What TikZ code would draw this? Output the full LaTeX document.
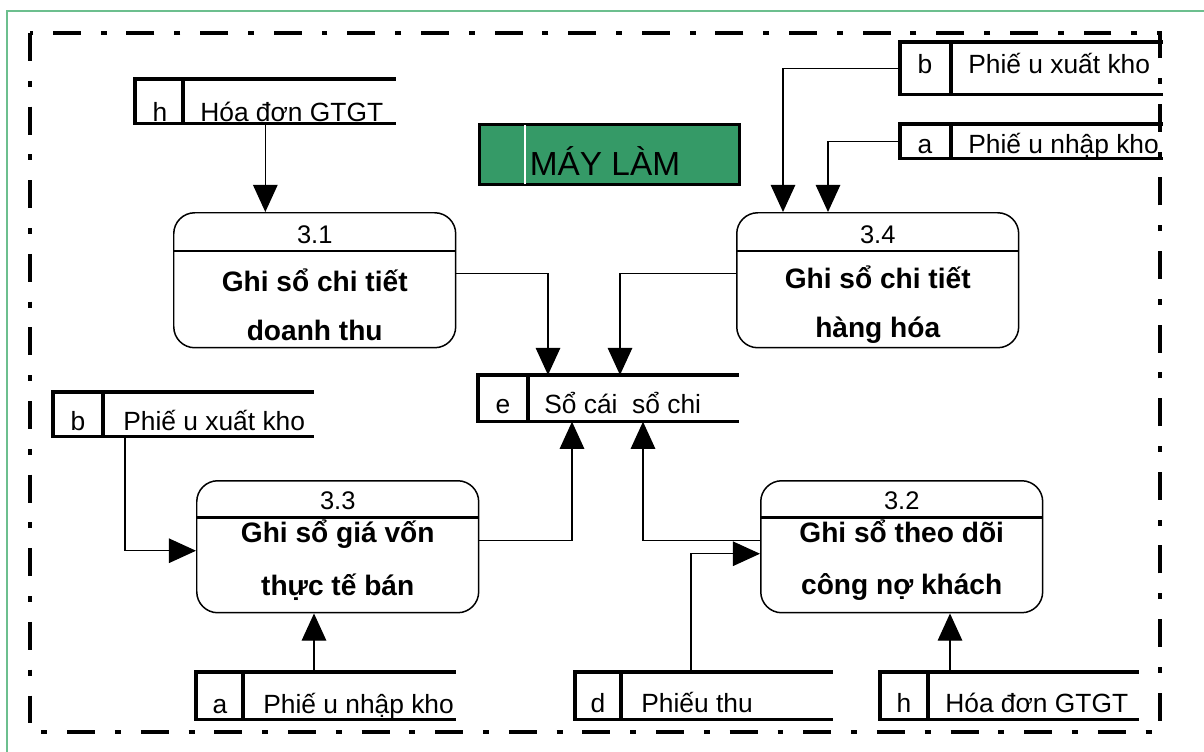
\documentclass[tikz,border=0pt]{standalone}
\usepackage{fontspec}
\setmainfont{Liberation Sans}
\usetikzlibrary{positioning, calc, arrows.meta}
\definecolor{Ink}{HTML}{000000}
\definecolor{Machine}{HTML}{359A67}
\definecolor{Frame}{HTML}{6CBF8E}
\tikzset{
    procbox/.style={rectangle, rounded corners=0.42cm, draw=Ink, line width=0.85pt, anchor=north west, minimum width=5.64cm},
    procline/.style={line width=1.7pt, Ink},
    procnum/.style={anchor=base, inner sep=0pt, font=\fontsize{14.5}{17}\selectfont},
    proctext/.style={align=center, inner sep=0pt, font=\fontsize{16}{28}\selectfont\bfseries},
    storebox/.style={rectangle, inner sep=0pt, anchor=north west},
    storeline/.style={line width=2pt, Ink},
    storetext/.style={anchor=base, inner sep=0pt, font=\fontsize{15}{18}\selectfont},
    flow/.style={-{Triangle[width=14pt, length=15.5pt]}, line width=0.75pt, Ink},
    bound/.style={line width=2.2pt, Ink, dash pattern=on 15.9pt off 11.3pt on 3.4pt off 11.3pt},
}
\begin{document}
\begin{tikzpicture}[x=0.02cm, y=-0.02cm]
\useasboundingbox (0,0) rectangle (1204,751);
% outer frame, runs off at right and bottom
\draw[Frame, line width=1.1pt] (7,11) rectangle (1215,765);
% system boundary
\draw[bound] (30,33) rectangle (1160,732);

% machine label
\node[storebox, fill=Machine, draw=Ink, line width=1.7pt, minimum width=5.2cm, minimum height=1.2cm] (may) at (478,123) {};
\draw[white, line width=0.6pt] ($(may.north west)+(47,2)$) -- ($(may.south west)+(47,-2)$);
\node[storetext, font=\fontsize{19}{22}\selectfont] (may-t) at (605,175) {MÁY LÀM};

% processes
\node[procbox, minimum height=2.7cm] (p31) at (173,212) {};
\draw[procline] ($(p31.north west)+(0,39)$) -- ($(p31.north east)+(0,39)$);
\node[procnum] (p31-n) at ($(p31.north)+(0,31)$) {3.1};
\node[proctext] (p31-t) at ($(p31.north)+(0,93)$) {Ghi sổ chi tiết\\doanh thu};

\node[procbox, minimum height=2.7cm] (p34) at (736,212) {};
\draw[procline] ($(p34.north west)+(0,39)$) -- ($(p34.north east)+(0,39)$);
\node[procnum] (p34-n) at ($(p34.north)+(0,31)$) {3.4};
\node[proctext] (p34-t) at ($(p34.north)+(0,93)$) {Ghi sổ chi tiết\\hàng hóa};

\node[procbox, minimum height=2.64cm] (p33) at (196,480) {};
\draw[procline] ($(p33.north west)+(0,37)$) -- ($(p33.north east)+(0,37)$);
\node[procnum] (p33-n) at ($(p33.north)+(0,29)$) {3.3};
\node[proctext, font=\fontsize{16}{30}\selectfont\bfseries] (p33-t) at ($(p33.north)+(0,80)$) {Ghi sổ giá vốn\\thực tế bán};

\node[procbox, minimum height=2.64cm] (p32) at (760,480) {};
\draw[procline] ($(p32.north west)+(0,37)$) -- ($(p32.north east)+(0,37)$);
\node[procnum] (p32-n) at ($(p32.north)+(0,29)$) {3.2};
\node[proctext, font=\fontsize{16}{30}\selectfont\bfseries] (p32-t) at ($(p32.north)+(0,80)$) {Ghi sổ theo dõi\\công nợ khách};

% data stores
\node[storebox, minimum width=5.2cm, minimum height=0.88cm] (sth) at (135,79) {};
\draw[storeline] (sth.north east) -- (sth.north west) -- (sth.south west) -- (sth.south east);
\draw[storeline] ($(sth.north west)+(48,0)$) -- ($(sth.south west)+(48,0)$);
\node[storetext] (sth-k) at ($(sth.north west)+(25,42)$) {h};
\node[storetext, anchor=base west] (sth-n) at ($(sth.north west)+(65,42)$) {Hóa đơn GTGT};

\node[storebox, minimum width=5.24cm, minimum height=1.04cm] (stb1) at (900,42) {};
\draw[storeline] (stb1.north east) -- (stb1.north west) -- (stb1.south west) -- (stb1.south east);
\draw[storeline] ($(stb1.north west)+(51,0)$) -- ($(stb1.south west)+(51,0)$);
\node[storetext] (stb1-k) at ($(stb1.north west)+(25,31)$) {b};
\node[storetext, anchor=base west] (stb1-n) at ($(stb1.north west)+(68,31)$) {Phiế u xuất kho};

\node[storebox, minimum width=5.24cm, minimum height=0.68cm] (sta1) at (900,124) {};
\draw[storeline] (sta1.north east) -- (sta1.north west) -- (sta1.south west) -- (sta1.south east);
\draw[storeline] ($(sta1.north west)+(51,0)$) -- ($(sta1.south west)+(51,0)$);
\node[storetext] (sta1-k) at ($(sta1.north west)+(25,29)$) {a};
\node[storetext, anchor=base west] (sta1-n) at ($(sta1.north west)+(68,29)$) {Phiế u nhập kho};

\node[storebox, minimum width=5.2cm, minimum height=0.92cm] (ste) at (478,375) {};
\draw[storeline] (ste.north east) -- (ste.north west) -- (ste.south west) -- (ste.south east);
\draw[storeline] ($(ste.north west)+(50,0)$) -- ($(ste.south west)+(50,0)$);
\node[storetext] (ste-k) at ($(ste.north west)+(25,38)$) {e};
\node[storetext, anchor=base west] (ste-n) at ($(ste.north west)+(66,38)$) {Sổ cái~~sổ chi};

\node[storebox, minimum width=5.2cm, minimum height=0.88cm] (stb2) at (53,392) {};
\draw[storeline] (stb2.north east) -- (stb2.north west) -- (stb2.south west) -- (stb2.south east);
\draw[storeline] ($(stb2.north west)+(50,0)$) -- ($(stb2.south west)+(50,0)$);
\node[storetext] (stb2-k) at ($(stb2.north west)+(25,38)$) {b};
\node[storetext, anchor=base west] (stb2-n) at ($(stb2.north west)+(70,38)$) {Phiế u xuất kho};

\node[storebox, minimum width=5.18cm, minimum height=0.94cm] (sta2) at (196,672) {};
\draw[storeline] (sta2.north east) -- (sta2.north west) -- (sta2.south west) -- (sta2.south east);
\draw[storeline] ($(sta2.north west)+(47,0)$) -- ($(sta2.south west)+(47,0)$);
\node[storetext] (sta2-k) at ($(sta2.north west)+(24,41)$) {a};
\node[storetext, anchor=base west] (sta2-n) at ($(sta2.north west)+(67,41)$) {Phiế u nhập kho};

\node[storebox, minimum width=5.14cm, minimum height=0.94cm] (std) at (575,672) {};
\draw[storeline] (std.north east) -- (std.north west) -- (std.south west) -- (std.south east);
\draw[storeline] ($(std.north west)+(46,0)$) -- ($(std.south west)+(46,0)$);
\node[storetext] (std-k) at ($(std.north west)+(23,40)$) {d};
\node[storetext, anchor=base west] (std-n) at ($(std.north west)+(66,40)$) {Phiếu thu};

\node[storebox, minimum width=5.16cm, minimum height=0.94cm] (sth2) at (880,672) {};
\draw[storeline] (sth2.north east) -- (sth2.north west) -- (sth2.south west) -- (sth2.south east);
\draw[storeline] ($(sth2.north west)+(48,0)$) -- ($(sth2.south west)+(48,0)$);
\node[storetext] (sth2-k) at ($(sth2.north west)+(24,40)$) {h};
\node[storetext, anchor=base west] (sth2-n) at ($(sth2.north west)+(65,40)$) {Hóa đơn GTGT};

% flows
\draw[flow] (sth.south) -- (sth.south |- p31.north);
\draw[flow] (stb1.west) -| ($(p34.north west)+(47,0)$);
\draw[flow] (sta1.west) -| ($(p34.north west)+(92,0)$);
\draw[flow] ($(p31.east)+(0,-7)$) -| ($(ste.north west)+(70,0)$);
\draw[flow] ($(p34.west)+(0,-7)$) -| ($(ste.north west)+(142,0)$);
\draw[flow] ($(p33.east)+(0,-6)$) -| ($(ste.south west)+(94,0)$);
\draw[flow] ($(p32.west)+(0,-6)$) -| ($(ste.south west)+(165,0)$);
\draw[flow] ($(std.north west)+(116,0)$) |- ($(p32.west)+(0,7)$);
\draw[flow] ($(stb2.south west)+(72,0)$) |- ($(p33.west)+(0,4)$);
\draw[flow] ($(sta2.north west)+(118,0)$) coordinate (a2) -- (a2 |- p33.south);
\draw[flow] ($(sth2.north west)+(70,0)$) coordinate (h2) -- (h2 |- p32.south);
\end{tikzpicture}
\end{document}
